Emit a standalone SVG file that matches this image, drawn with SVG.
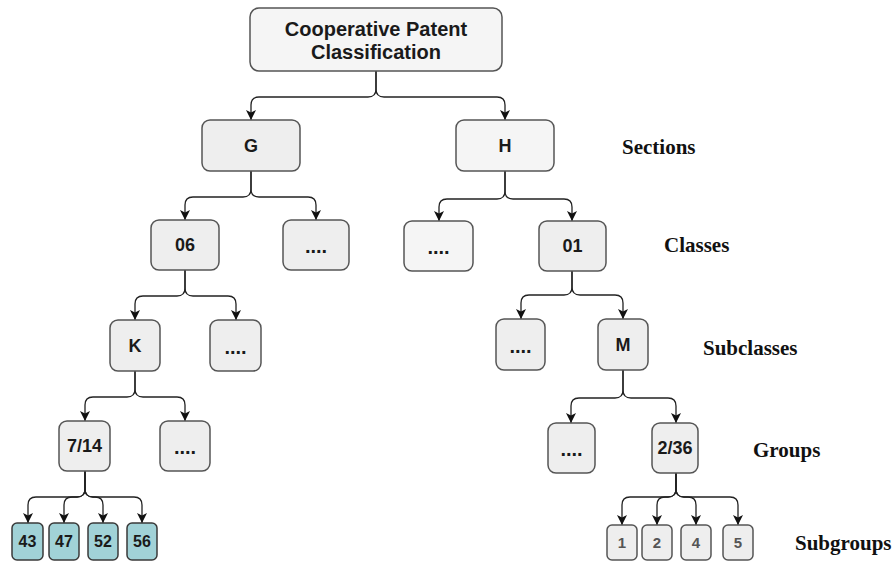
<svg xmlns="http://www.w3.org/2000/svg" width="896" height="562" viewBox="0 0 896 562">
<style>
.box{fill:#eeeeee;stroke:#555555;stroke-width:1.5}
.lt{fill:#f5f5f5}
.teal{fill:#a1d2d7;stroke:#3a3a3a;stroke-width:1.5}
.sg{fill:#eeeeee;stroke:#555555;stroke-width:1.5}
.t{font-family:"Liberation Sans",Arial,sans-serif;font-weight:bold;font-size:18px;fill:#1a1a1a;text-anchor:middle}
.t20{font-size:20px}
.t16{font-size:16px}
.t14{font-size:15px;fill:#555555}
.d{font-size:20px}
.lab{font-family:"Liberation Serif","Times New Roman",serif;font-weight:bold;font-size:21px;fill:#111111}
.c{fill:none;stroke:#222222;stroke-width:1.3;marker-end:url(#arr)}
</style>
<defs>
<marker id="arr" viewBox="0 0 10 10" refX="10" refY="5" markerWidth="10" markerHeight="10" markerUnits="userSpaceOnUse" orient="auto">
<path d="M0,0 L10,5 L0,10 L2.5,5 z" fill="#111111"/>
</marker>
</defs>
<g id="connectors">
<path class="c" d="M376,71 V89 Q376,97 368,97 H259 Q251,97 251,105 V120"/>
<path class="c" d="M376,71 V89 Q376,97 384,97 H497 Q505,97 505,105 V120"/>
<path class="c" d="M251,171 V189 Q251,197 243,197 H193 Q185,197 185,205 V220"/>
<path class="c" d="M251,171 V189 Q251,197 259,197 H308 Q316,197 316,205 V220"/>
<path class="c" d="M505,171 V191 Q505,199 497,199 H447 Q439,199 439,207 V221"/>
<path class="c" d="M505,171 V191 Q505,199 513,199 H564 Q572,199 572,207 V221"/>
<path class="c" d="M185,270 V288 Q185,296 177,296 H143 Q135,296 135,304 V320"/>
<path class="c" d="M185,270 V288 Q185,296 193,296 H228 Q236,296 236,304 V320"/>
<path class="c" d="M572,271 V287 Q572,295 564,295 H529 Q521,295 521,303 V319"/>
<path class="c" d="M572,271 V287 Q572,295 580,295 H615 Q623,295 623,303 V319"/>
<path class="c" d="M135,371 V389 Q135,397 127,397 H93 Q85,397 85,405 V421"/>
<path class="c" d="M135,371 V389 Q135,397 143,397 H177 Q185,397 185,405 V421"/>
<path class="c" d="M623,370 V390 Q623,398 615,398 H579 Q571,398 571,406 V423"/>
<path class="c" d="M623,370 V390 Q623,398 631,398 H668 Q676,398 676,406 V423"/>
<path class="c" d="M85,471 V489 Q85,497 77,497 H36 Q28,497 28,505 V523"/>
<path class="c" d="M85,471 V489 Q85,497 77,497 H72 Q64,497 64,505 V523"/>
<path class="c" d="M85,471 V489 Q85,497 93,497 H95 Q103,497 103,505 V523"/>
<path class="c" d="M85,471 V489 Q85,497 93,497 H134 Q142,497 142,505 V523"/>
<path class="c" d="M676,473 V489 Q676,497 668,497 H630 Q622,497 622,505 V525"/>
<path class="c" d="M676,473 V489 Q676,497 668,497 H665 Q657,497 657,505 V525"/>
<path class="c" d="M676,473 V489 Q676,497 684,497 H688 Q696,497 696,505 V525"/>
<path class="c" d="M676,473 V489 Q676,497 684,497 H730 Q738,497 738,505 V525"/>
</g>
<g id="root"><rect class="box lt" x="250" y="8" width="252" height="63" rx="9"/><text class="t t20" x="376" y="36">Cooperative Patent</text><text class="t t20" x="376" y="59">Classification</text></g>
<g id="G"><rect class="box" x="202" y="120" width="98" height="51" rx="8"/><text class="t" x="251" y="152">G</text></g>
<g id="H"><rect class="box lt" x="456" y="120" width="98" height="51" rx="8"/><text class="t" x="505" y="152">H</text></g>
<g id="c06"><rect class="box" x="151" y="220" width="68" height="50" rx="8"/><text class="t" x="185" y="251">06</text></g>
<g id="cdotsL"><rect class="box" x="283" y="220" width="66" height="50" rx="8"/><text class="t d" x="316" y="253">....</text></g>
<g id="cdotsR"><rect class="box lt" x="404" y="221" width="69" height="50" rx="8"/><text class="t d" x="438.5" y="254">....</text></g>
<g id="c01"><rect class="box" x="539" y="221" width="67" height="50" rx="8"/><text class="t" x="572.5" y="252">01</text></g>
<g id="K"><rect class="box" x="110" y="320" width="50" height="51" rx="8"/><text class="t" x="135" y="352">K</text></g>
<g id="sdotsL"><rect class="box" x="210" y="320" width="51" height="51" rx="8"/><text class="t d" x="235.5" y="354">....</text></g>
<g id="sdotsR"><rect class="box" x="496" y="319" width="49" height="51" rx="8"/><text class="t d" x="520.5" y="353">....</text></g>
<g id="M"><rect class="box" x="598" y="319" width="50" height="51" rx="8"/><text class="t" x="623" y="351">M</text></g>
<g id="g714"><rect class="box" x="59" y="421" width="51" height="50" rx="8"/><text class="t" x="84.5" y="452">7/14</text></g>
<g id="gdotsL"><rect class="box" x="160" y="421" width="50" height="50" rx="8"/><text class="t d" x="185" y="454">....</text></g>
<g id="gdotsR"><rect class="box" x="548" y="423" width="47" height="50" rx="8"/><text class="t d" x="571.5" y="456">....</text></g>
<g id="g236"><rect class="box" x="652" y="423" width="46" height="50" rx="8"/><text class="t" x="675" y="454">2/36</text></g>
<g id="s43"><rect class="teal" x="12" y="523" width="31" height="37" rx="5"/><text class="t t16" x="27.5" y="547">43</text></g>
<g id="s47"><rect class="teal" x="49" y="523" width="30" height="37" rx="5"/><text class="t t16" x="64" y="547">47</text></g>
<g id="s52"><rect class="teal" x="88" y="523" width="30" height="37" rx="5"/><text class="t t16" x="103" y="547">52</text></g>
<g id="s56"><rect class="teal" x="127" y="523" width="30" height="37" rx="5"/><text class="t t16" x="142" y="547">56</text></g>
<g id="s1"><rect class="sg" x="607" y="525" width="30" height="35" rx="5"/><text class="t t14" x="622" y="548">1</text></g>
<g id="s2"><rect class="sg" x="642" y="525" width="30" height="35" rx="5"/><text class="t t14" x="657" y="548">2</text></g>
<g id="s4"><rect class="sg" x="681" y="525" width="30" height="35" rx="5"/><text class="t t14" x="696" y="548">4</text></g>
<g id="s5"><rect class="sg" x="723" y="525" width="30" height="35" rx="5"/><text class="t t14" x="738" y="548">5</text></g>
<g id="labels">
<text class="lab" x="622" y="154">Sections</text>
<text class="lab" x="664" y="252">Classes</text>
<text class="lab" x="703" y="355">Subclasses</text>
<text class="lab" x="753" y="457">Groups</text>
<text class="lab" x="795" y="550">Subgroups</text>
</g>
</svg>
